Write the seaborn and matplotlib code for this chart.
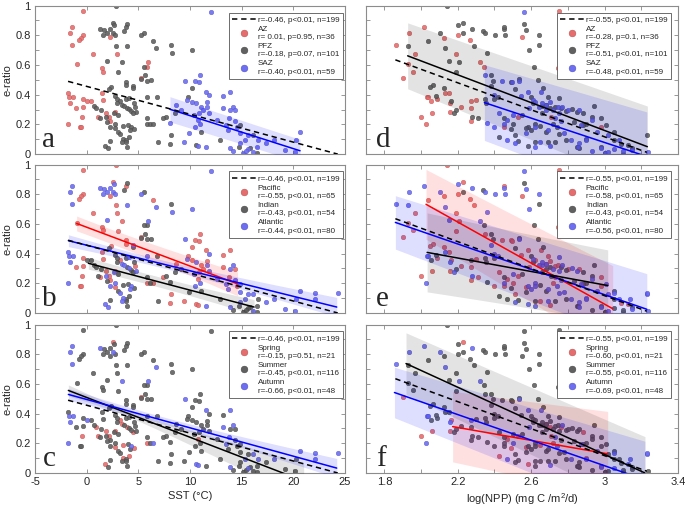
import numpy as np
import pandas as pd
import seaborn as sns
import matplotlib.pyplot as plt
from matplotlib.lines import Line2D
from matplotlib.ticker import MultipleLocator, FormatStrFormatter

# ----------------------------------------------------
# 1. Samples, grouped by zone
#    basin codes: P=Pacific I=Indian A=Atlantic
#    season codes: S=Spring U=Summer A=Autumn
# ----------------------------------------------------
AZ_SST = [-0.39, -1.45, -1.6, -0.4, 2.26, -0.55, -0.7, -1.45, 0.58, 2.9,
          5.97, -0.9, 5.8, 1.48, 1.6, 5.3, 1.45, -1.77, -1.3, -1.68,
          -0.32, 1.55, 0.06, 0.39, -1.6, -0.39, -1.03, 2.74, 1.87, 1.06,
          -0.48, 2.13, 2.26, -1.77, -0.65, -0.55]
AZ_NPP = [2.75, 2.015, 1.933, 2.2, 2.55, 2.124, 2.264, 1.864, 2.19, 1.967,
          2.32, 1.927, 2.345, 2.745, 1.955, 1.9, 2.15, 2.13, 2.033, 2.04,
          2.087, 2.3, 2.27, 2.055, 2.16, 2.22, 2.27, 2.16, 2.06, 2.71,
          2.53, 2.0, 2.27, 2.027, 2.98, 2.45]
AZ_E = [0.966, 0.854, 0.815, 0.80, 0.788, 0.785, 0.77, 0.736, 0.676, 0.673,
        0.62, 0.606, 0.59, 0.579, 0.556, 0.51, 0.414, 0.41, 0.387, 0.383,
        0.369, 0.365, 0.36, 0.358, 0.342, 0.315, 0.313, 0.286, 0.28, 0.252,
        0.248, 0.248, 0.22, 0.20, 0.185, 0.18]
AZ_BASIN = "PAAPPPPAPPAPIPPPPAAAPPIIAPPPPIPPPAPP"
AZ_SEASON = "UAAUUUUAUUAUUUUSUUAAUUAUAUUSSSSSUAUU"

PFZ_SST = [2.8, 2.5, 3.9, 2.6, 2.26, 1.3, 1.7, 3.6, 3.8, 2.0,
           2.5, 5.5, 1.55, 5.3, 2.7, 6.45, 8.16, 3.9, 2.8, 6.7,
           10.2, 8.3, 1.94, 3.4, 5.5, 3.06, 5.6, 5.3, 6.2, 5.8,
           3.8, 3.8, 4.45, 2.4, 4.45, 10.2, 2.2, 9.8, 6.8, 5.8,
           2.7, 2.9, 3.2, 3.8, 4.1, 2.9, 3.4, 4.6, 0.74, 3.6,
           3.9, 4.7, 0.9, 4.1, 1.35, 4.3, 4.8, 2.6, 4.45, 8.5,
           3.06, 7.7, 7.4, 1.9, 1.3, 5.8, 2.0, 5.8, 6.1, 6.45,
           2.7, 4.0, 14.8, 3.5, 2.26, 4.3, 4.6, 2.7, 4.2, 3.06,
           11.1, 3.2, 8.2, 16.1, 4.1, 3.5, 3.8, 2.3, 12.9, 3.4,
           3.8, 6.9, 8.06, 10.6, 1.8, 3.9, 14.7, 2.1, 15.8, 16.5,
           15.2]
PFZ_NPP = [2.142, 2.227, 2.563, 2.2, 2.45, 2.28, 2.573, 2.336, 2.45, 2.35,
           2.105, 2.227, 2.404, 2.645, 2.46, 2.04, 2.645, 1.927, 2.287, 2.13,
           2.59, 2.36, 2.15, 2.209, 2.618, 2.19, 2.38, 2.536, 2.636, 2.39,
           2.49, 2.064, 2.38, 2.05, 2.664, 2.124, 2.51, 2.69, 2.6, 2.42,
           2.08, 2.35, 2.164, 2.40, 2.75, 2.355, 2.68, 2.61, 2.945, 2.66,
           2.70, 2.73, 2.76, 2.82, 2.19, 2.79, 2.85, 2.178, 2.88, 2.66,
           2.55, 2.93, 2.98, 2.28, 2.31, 2.45, 2.836, 2.72, 2.9, 2.5,
           2.62, 2.88, 3.01, 2.65, 2.58, 2.74, 2.49, 2.57, 2.6, 2.68,
           3.05, 2.75, 2.51, 3.233, 2.427, 2.9, 2.79, 2.53, 3.05, 2.69,
           2.73, 2.62, 3.09, 3.127, 2.58, 2.85, 2.98, 2.86, 3.15, 3.0,
           3.1]
PFZ_E = [0.995, 0.88, 0.878, 0.87, 0.842, 0.842, 0.833, 0.83, 0.856, 0.815,
         0.815, 0.815, 0.804, 0.804, 0.80, 0.759, 0.736, 0.725, 0.725, 0.714,
         0.698, 0.68, 0.628, 0.617, 0.59, 0.55, 0.534, 0.505, 0.50, 0.495,
         0.489, 0.466, 0.459, 0.45, 0.444, 0.444, 0.44, 0.387, 0.387, 0.387,
         0.392, 0.372, 0.36, 0.37, 0.375, 0.342, 0.333, 0.342, 0.324, 0.322,
         0.31, 0.315, 0.31, 0.305, 0.297, 0.29, 0.286, 0.275, 0.275, 0.275,
         0.264, 0.252, 0.24, 0.248, 0.241, 0.24, 0.218, 0.205, 0.205, 0.205,
         0.203, 0.196, 0.196, 0.189, 0.185, 0.18, 0.17, 0.173, 0.16, 0.151,
         0.151, 0.135, 0.128, 0.128, 0.115, 0.10, 0.095, 0.09, 0.095, 0.08,
         0.082, 0.083, 0.068, 0.06, 0.058, 0.05, 0.05, 0.043, 0.038, 0.008,
         0.004]
PFZ_BASIN = ("PPIAAAAIPA" "AIAAAPIAPA" "AAAPIPIIII" "PPAPIPIPIA" "IIPIAIAIIA"
             "IPIAIIAAII" "IIPAPIIPIP" "AIAIAAIPAI" "IAPAIAIIIA" "IIPPAIIAII" "I")
PFZ_SEASON = ("USUUUAUUUU" "AUUUUUUUUA" "UUUAUUUUUU" "UUUUUUUUUU" "UUSUUUSUUU"
              "SUSUUUUUSU" "UUUUUUUSUA" "UUUSUASSUU" "UUUASSUUUU" "UUUASUUUUU" "U")

SAZ_SST = [12.0, 11.0, 9.55, 10.5, 10.9, 11.5, 13.9, 11.8, 13.2, 9.7,
           10.2, 11.6, 10.6, 8.6, 11.1, 11.6, 14.2, 13.2, 9.1, 11.3,
           13.9, 14.4, 11.8, 10.9, 10.4, 13.8, 10.8, 12.6, 14.4, 8.06,
           11.0, 13.5, 14.5, 10.5, 13.7, 20.6, 9.9, 14.8, 15.6, 15.3,
           16.6, 18.1, 20.3, 9.4, 17.4, 14.8, 10.8, 11.5, 16.5, 13.9,
           15.6, 19.2, 14.2, 20.2, 15.1, 16.1, 15.4]
SAZ_NPP = [2.56, 2.35, 2.536, 2.44, 2.495, 2.655, 2.58, 2.396, 2.545, 2.61,
           2.62, 2.70, 2.66, 2.68, 2.745, 2.64, 2.77, 2.59, 2.68, 2.80,
           2.72, 2.86, 2.75, 2.427, 2.50, 2.73, 2.47, 2.93, 2.76, 2.36,
           2.45, 2.87, 2.40, 2.62, 2.69, 2.96, 2.573, 2.78, 3.02, 2.818,
           2.47, 2.9, 3.08, 2.65, 2.51, 2.86, 2.7, 2.62, 2.855, 2.978,
           3.05, 3.15, 2.93, 3.236, 3.0, 3.02, 3.1]
SAZ_E = [0.957, 0.53, 0.495, 0.49, 0.484, 0.421, 0.421, 0.40, 0.392, 0.365,
         0.354, 0.349, 0.342, 0.329, 0.32, 0.32, 0.32, 0.308, 0.297, 0.297,
         0.297, 0.297, 0.28, 0.275, 0.264, 0.241, 0.23, 0.23, 0.223, 0.207,
         0.203, 0.196, 0.185, 0.18, 0.162, 0.15, 0.144, 0.14, 0.128, 0.095,
         0.095, 0.095, 0.095, 0.083, 0.072, 0.072, 0.056, 0.05, 0.05, 0.038,
         0.035, 0.03, 0.022, 0.016, 0.006, 0.012, 0.02]
SAZ_BASIN = "APAPPPPAPA" "PPAPPAAPIP" "APAPAPPAAI" "AAPAAAIAAA" "IAAPAAPAIA" "IAIAIAI"
SAZ_SEASON = "UUAUUAAUUU" "UUUUUUAAUU" "UUUUUASUUU" "UAUUUAUUUA" "AAUUUUAUUA" "AUUUUUU"

# samples without a frontal-zone label
EXTRA_SST = [24.3, 22.1, 22.1]
EXTRA_NPP = [3.23, 3.05, 3.14]
EXTRA_E = [0.133, 0.133, 0.093]
EXTRA_BASIN = "AAA"
EXTRA_SEASON = "AAA"

# ----------------------------------------------------
# 2. Regression results
#    (x0, x1, y0, y1, halfwidth at x0, at middle, at x1)
# ----------------------------------------------------
FIT_ALL_SST = (-1.8, 24.3, 0.49, 0.0)
FIT_ALL_NPP = (1.86, 3.23, 0.635, 0.012)
FITS = {
    "a": [("blue", (8.06, 20.65, 0.302, 0.0225, 0.085, 0.08, 0.077))],
    "b": [("red", (-0.97, 14.6, 0.603, 0.196, 0.05, 0.055, 0.08)),
          ("gray", (0.16, 16.2, 0.335, 0.04, 0.04, 0.035, 0.05)),
          ("blue", (-1.77, 24.2, 0.487, 0.04, 0.04, 0.03, 0.065))],
    "c": [("gray", (-1.77, 21.0, 0.556, -0.054, 0.037, 0.048, 0.119)),
          ("blue", (-1.77, 24.2, 0.529, 0.033, 0.04, 0.028, 0.065))],
    "d": [("gray", (1.927, 3.233, 0.662, 0.05, 0.222, 0.248, 0.274)),
          ("blue", (2.345, 3.23, 0.347, -0.016, 0.255, 0.278, 0.30))],
    "e": [("red", (2.027, 3.044, 0.732, 0.029, 0.235, 0.26, 0.29)),
          ("gray", (2.033, 3.017, 0.408, 0.185, 0.266, 0.25, 0.24)),
          ("blue", (1.86, 3.23, 0.61, 0.025, 0.18, 0.21, 0.24))],
    "f": [("red", (2.172, 3.017, 0.3125, 0.129, 0.238, 0.26, 0.286)),
          ("gray", (1.918, 3.22, 0.737, 0.0, 0.207, 0.225, 0.245)),
          ("blue", (1.855, 3.22, 0.542, -0.046, 0.17, 0.215, 0.26))],
}

LEGENDS = {
    "a": ["r=-0.46, p<0.01, n=199", "AZ\nr= 0.01, p=0.95, n=36",
          "PFZ\nr=-0.18, p=0.07, n=101", "SAZ\nr=-0.40, p<0.01, n=59"],
    "d": ["r=-0.55, p<0.01, n=199", "AZ\nr=-0.28, p=0.1, n=36",
          "PFZ\nr=-0.51, p<0.01, n=101", "SAZ\nr=-0.48, p<0.01, n=59"],
    "b": ["r=-0.46, p<0.01, n=199", "Pacific\nr=-0.55, p<0.01, n=65",
          "Indian\nr=-0.43, p<0.01, n=54", "Atlantic\nr=-0.44, p<0.01, n=80"],
    "e": ["r=-0.55, p<0.01, n=199", "Pacific\nr=-0.58, p<0.01, n=65",
          "Indian\nr=-0.43, p<0.01, n=54", "Atlantic\nr=-0.56, p<0.01, n=80"],
    "c": ["r=-0.46, p<0.01, n=199", "Spring\nr=-0.15, p=0.51, n=21",
          "Summer\nr=-0.45, p<0.01, n=116", "Autumn\nr=-0.66, p<0.01, n=48"],
    "f": ["r=-0.55, p<0.01, n=199", "Spring\nr=-0.60, p<0.01, n=21",
          "Summer\nr=-0.55, p<0.01, n=116", "Autumn\nr=-0.69, p<0.01, n=48"],
}

# ----------------------------------------------------
# 3. Build table
# ----------------------------------------------------
df = pd.DataFrame({
    "sst": AZ_SST + PFZ_SST + SAZ_SST + EXTRA_SST,
    "npp": AZ_NPP + PFZ_NPP + SAZ_NPP + EXTRA_NPP,
    "e": AZ_E + PFZ_E + SAZ_E + EXTRA_E,
    "zone": ["red"] * len(AZ_SST) + ["gray"] * len(PFZ_SST)
            + ["blue"] * len(SAZ_SST) + ["none"] * len(EXTRA_SST),
    "basin": [{"P": "red", "I": "gray", "A": "blue"}[c]
              for c in AZ_BASIN + PFZ_BASIN + SAZ_BASIN + EXTRA_BASIN],
    "season": [{"S": "red", "U": "gray", "A": "blue"}[c]
               for c in AZ_SEASON + PFZ_SEASON + SAZ_SEASON + EXTRA_SEASON],
})

PT = {"red": "#e66d6d", "gray": "#606060", "blue": "#6e6ef0"}
EDGE = {"red": "#c05050", "gray": "#454545", "blue": "#5050c8"}
LINE = {"red": "#ff0000", "gray": "#000000", "blue": "#0000ff"}
BAND = {"red": ("#ff0000", 0.12), "gray": ("#000000", 0.11), "blue": ("#0000ff", 0.13)}

# ----------------------------------------------------
# 4. Plot
# ----------------------------------------------------
sns.set_style("ticks")
plt.rcParams["font.family"] = ["Liberation Sans", "DejaVu Sans"]
plt.rcParams["mathtext.default"] = "regular"

fig = plt.figure(figsize=(6.85, 5.12), dpi=100)
bottoms = [0.699, 0.3887, 0.0762]
h = 0.29
left_x, left_w = 35 / 685, 310 / 685
right_x, right_w = 366 / 685, 312 / 685

panels = [("a", "sst", "zone", 0, 0), ("b", "sst", "basin", 0, 1), ("c", "sst", "season", 0, 2),
          ("d", "npp", "zone", 1, 0), ("e", "npp", "basin", 1, 1), ("f", "npp", "season", 1, 2)]

for letter, xcol, grp, col, row in panels:
    if col == 0:
        ax = fig.add_axes([left_x, bottoms[row], left_w, h])
    else:
        ax = fig.add_axes([right_x, bottoms[row], right_w, h])

    for g in ("red", "gray", "blue"):
        sub = df[df[grp] == g]
        sns.scatterplot(x=sub[xcol], y=sub["e"], ax=ax, color=PT[g], s=11,
                        edgecolor=EDGE[g], linewidth=0.3, alpha=0.9, zorder=2)

    for g, (x0, x1, y0, y1, h0, hm, h1) in FITS[letter]:
        xs = np.linspace(x0, x1, 60)
        ys = y0 + (y1 - y0) * (xs - x0) / (x1 - x0)
        coef = np.polyfit([x0, (x0 + x1) / 2, x1], [h0 ** 2, hm ** 2, h1 ** 2], 2)
        hw = np.sqrt(np.clip(np.polyval(coef, xs), 1e-6, None))
        ax.fill_between(xs, ys - hw, ys + hw, color=BAND[g][0], alpha=BAND[g][1],
                        lw=0, zorder=3)
        ax.plot([x0, x1], [y0, y1], color=LINE[g], lw=1.1, zorder=4)

    fx0, fx1, fy0, fy1 = FIT_ALL_SST if col == 0 else FIT_ALL_NPP
    ax.plot([fx0, fx1], [fy0, fy1], color="k", lw=1.1, ls=(0, (3.5, 2.5)), zorder=5)

    ax.set_ylim(0, 1)
    ax.yaxis.set_minor_locator(MultipleLocator(0.1))
    if col == 0:
        ax.set_xlim(-5, 25)
        ax.xaxis.set_major_locator(MultipleLocator(5))
        ax.yaxis.set_major_locator(MultipleLocator(0.2))
        ax.yaxis.set_major_formatter(FormatStrFormatter("%g"))
        ax.set_ylabel("e-ratio", fontsize=8, labelpad=2, color="#262626")
    else:
        ax.set_xlim(1.7, 3.4)
        ax.set_xticks([1.8, 2.2, 2.6, 3.0, 3.4])
        ax.xaxis.set_minor_locator(MultipleLocator(0.2))
        ax.yaxis.set_major_locator(MultipleLocator(0.2))
        ax.tick_params(axis="y", labelleft=False)
        ax.set_ylabel("")
    ax.xaxis.set_major_formatter(FormatStrFormatter("%g"))
    if row < 2:
        ax.tick_params(axis="x", labelbottom=False)
        ax.set_xlabel("")
    else:
        ax.set_xlabel("SST (°C)" if col == 0 else "log(NPP) (mg C /m$^2$/d)",
                      fontsize=8, color="#262626", labelpad=3)

    ax.tick_params(which="both", direction="in", top=True, right=True, length=3,
                   width=0.5, color="#6e6e6e", labelsize=8, labelcolor="#262626", pad=3)
    for sp in ax.spines.values():
        sp.set_color("#8c8c8c")
        sp.set_linewidth(0.8)

    ax.text(0.024 if col == 0 else 0.033, 0.045, letter, transform=ax.transAxes,
            fontsize=21, family="Liberation Serif", va="baseline", zorder=6)

    handles = [Line2D([], [], color="k", lw=1.1, ls=(0, (3.5, 2.5)))]
    for g in ("red", "gray", "blue"):
        handles.append(Line2D([], [], ls="", marker="o", ms=4.8, mfc=PT[g],
                              mec=EDGE[g], mew=0.4))
    anchor_x = 0.9935 if col == 0 else 0.9776
    leg = ax.legend(handles, LEGENDS[letter], loc="upper right",
                    bbox_to_anchor=(anchor_x, 1 - 7 / 149), borderaxespad=0,
                    fontsize=5.8, handlelength=3.0, handletextpad=0.15,
                    labelspacing=0.22, borderpad=0.45, frameon=True,
                    fancybox=False, edgecolor="#555555", framealpha=1)
    leg.get_frame().set_linewidth(0.6)
    for t in leg.get_texts():
        t.set_linespacing(1.3)
    leg.set_zorder(10)

plt.savefig("out.png", dpi=100)
